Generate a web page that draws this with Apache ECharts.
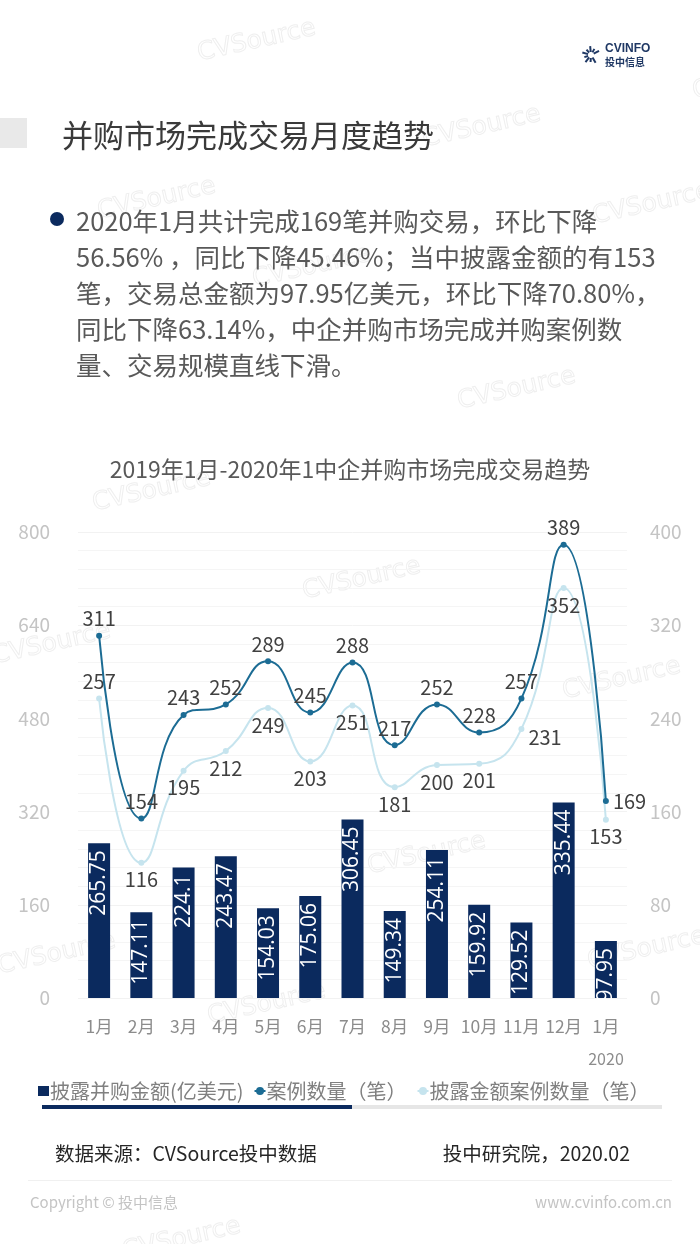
<!DOCTYPE html>
<html>
<head>
<meta charset="utf-8">
<script src="https://cdn.jsdelivr.net/npm/echarts@6/dist/echarts.min.js"></script>
<style>
html,body{margin:0;padding:0;background:#fff;}
#c{width:700px;height:1244px;}
</style>
</head>
<body>
<div id="c"></div>
<script>
// ---- data ----
const categories = ['1月','2月','3月','4月','5月','6月','7月','8月','9月','10月','11月','12月','1月'];
const amountValues = [265.75, 147.11, 224.1, 243.47, 154.03, 175.06, 306.45, 149.34, 254.11, 159.92, 129.52, 335.44, 97.95];
const caseCounts = [311, 154, 243, 252, 289, 245, 288, 217, 252, 228, 257, 389, 169];
const disclosedCounts = [257, 116, 195, 212, 249, 203, 251, 181, 200, 201, 231, 352, 153];
const seriesNames = ['披露并购金额(亿美元)', '案例数量（笔）', '披露金额案例数量（笔）'];
const leftTicks = [0, 160, 320, 480, 640, 800];
const rightTicks = [0, 80, 160, 240, 320, 400];

const pageTitle = '并购市场完成交易月度趋势';
const paragraphLines = [
  '2020年1月共计完成169笔并购交易，环比下降',
  '56.56% ，同比下降45.46%；当中披露金额的有153',
  '笔，交易总金额为97.95亿美元，环比下降70.80%，',
  '同比下降63.14%，中企并购市场完成并购案例数',
  '量、交易规模直线下滑。'
];
const chartTitle = '2019年1月-2020年1中企并购市场完成交易趋势';
const yearNote = '2020';
const sourceLeft = '数据来源：CVSource投中数据';
const sourceRight = '投中研究院，2020.02';
const footerLeft = 'Copyright © 投中信息';
const footerRight = 'www.cvinfo.com.cn';

// label placement styles (not data)
const casePos = ['top','top','top','top','top','top','top','top','top','top','top','top','right'];
const discPos = ['top','bottom','bottom','bottom','bottom','bottom','bottom','bottom','bottom','bottom','right','bottom','bottom'];
const discOffset = [[0,0],[0,0],[0,0],[0,0],[0,0],[0,0],[0,0],[0,0],[0,0],[0,0],[0,9],[0,0],[0,0]];

const CJK = '"Noto Sans CJK SC", "Noto Sans", sans-serif';
const chart = echarts.init(document.getElementById('c'), null, {renderer:'canvas'});

const graphics = [];
// watermarks
const wm = [[195,42],[420,128],[95,200],[590,205],[250,268],[455,390],[90,492],[300,580],[-10,645],[560,680],[365,855],[-5,955],[585,950],[205,1005],[120,1240],[690,80]];
wm.forEach(p => graphics.push({type:'text', x:p[0], y:p[1], rotation:0.22, silent:true, z:-1,
  style:{text:'CVSource', fill:'none', stroke:'#efefef', lineWidth:1, font:'25px "DejaVu Sans", sans-serif'}}));

// left gray box
graphics.push({type:'rect', shape:{x:0,y:118,width:27,height:30}, style:{fill:'#e9e9e9'}});
graphics.push({type:'text', x:62, y:135, style:{text:pageTitle, fill:'#3a3a3a', font:'31px '+CJK, textVerticalAlign:'middle'}});

// logo
const cx = 591, cy = 55;
for (let i = 0; i < 9; i++) {
  const a = Math.PI*0.15 + i*Math.PI*0.19;
  const r1 = 3, r2 = (i%2===0) ? 9 : 7;
  graphics.push({type:'line', shape:{x1:cx+Math.cos(a)*r1, y1:cy-Math.sin(a)*r1, x2:cx+Math.cos(a)*r2, y2:cy-Math.sin(a)*r2},
    style:{stroke:'#1f3864', lineWidth:2}});
}
graphics.push({type:'text', x:605, y:49, style:{text:'CVINFO', fill:'#1f3864', font:'bold 12px "Liberation Sans", sans-serif', textVerticalAlign:'middle'}});
graphics.push({type:'text', x:605, y:62, style:{text:'投中信息', fill:'#1f3864', font:'bold 10px '+CJK, textVerticalAlign:'middle'}});

// bullet + paragraph
graphics.push({type:'circle', shape:{cx:57, cy:219, r:7}, style:{fill:'#0b2a5e'}});
paragraphLines.forEach((t,i) => graphics.push({type:'text', x:76, y:221+i*36, style:{text:t, fill:'#595959', font:'25.5px '+CJK, textVerticalAlign:'middle'}}));

// year note
graphics.push({type:'text', x:606, y:1059, style:{text:yearNote, fill:'#8c8c8c', font:'16px '+CJK, textAlign:'center', textVerticalAlign:'middle'}});

// legend decoration bar
graphics.push({type:'rect', shape:{x:352,y:1105,width:310,height:4}, style:{fill:'#e6e6e6'}});
graphics.push({type:'rect', shape:{x:42,y:1105,width:310,height:4}, style:{fill:'#0b2a5e'}});

// source
graphics.push({type:'text', x:55, y:1154, style:{text:sourceLeft, fill:'#262626', font:'19.5px '+CJK, textVerticalAlign:'middle'}});
graphics.push({type:'text', x:630, y:1154, style:{text:sourceRight, fill:'#262626', font:'19.5px '+CJK, textAlign:'right', textVerticalAlign:'middle'}});
graphics.push({type:'rect', shape:{x:28,y:1180,width:644,height:1}, style:{fill:'#f0f0f0'}});
graphics.push({type:'text', x:30, y:1202, style:{text:footerLeft, fill:'#c4c4c4', font:'15px '+CJK, textVerticalAlign:'middle'}});
graphics.push({type:'text', x:672, y:1202, style:{text:footerRight, fill:'#c4c4c4', font:'15px '+CJK, textAlign:'right', textVerticalAlign:'middle'}});

const lineLabel = {show:true, color:'#404040', fontSize:20, fontFamily:CJK, distance:4};

chart.setOption({
  animation:false,
  backgroundColor:'#ffffff',
  textStyle:{fontFamily:CJK},
  title:{text:chartTitle, left:'center', top:453, textStyle:{color:'#595959', fontSize:23, fontWeight:'normal', fontFamily:CJK}},
  legend:{
    left:33, top:1076, itemGap:10, itemWidth:11, itemHeight:10,
    textStyle:{color:'#808080', fontSize:20, fontFamily:CJK, padding:[0,0,0,-4]},
    data:[{name:seriesNames[0], icon:'rect'}, {name:seriesNames[1]}, {name:seriesNames[2]}]
  },
  grid:{left:78, right:73, top:532, bottom:246},
  xAxis:{
    type:'category', data:categories,
    axisLine:{show:false}, axisTick:{show:false},
    axisLabel:{color:'#8c8c8c', fontSize:17.5, margin:20, fontFamily:CJK, interval:0}
  },
  yAxis:[
    {type:'value', min:leftTicks[0], max:leftTicks[leftTicks.length-1], interval:160,
      axisLabel:{color:'#c4c4c4', fontSize:19, margin:28, fontFamily:CJK},
      axisLine:{show:false}, axisTick:{show:false},
      splitLine:{lineStyle:{color:'#f2f2f2'}},
      minorTick:{show:false, splitNumber:5},
      minorSplitLine:{show:true, lineStyle:{color:'#f5f5f5'}}},
    {type:'value', min:rightTicks[0], max:rightTicks[rightTicks.length-1], interval:80,
      axisLabel:{color:'#c4c4c4', fontSize:19, margin:23, fontFamily:CJK},
      axisLine:{show:false}, axisTick:{show:false}, splitLine:{show:false}}
  ],
  series:[
    {name:seriesNames[0], type:'bar', data:amountValues, barWidth:22, yAxisIndex:0,
      itemStyle:{color:'#0b2a5e'},
      label:{show:true, position:'insideTop', rotate:90, align:'right', verticalAlign:'middle', distance:7,
        color:'#ffffff', fontSize:21, fontFamily:'"Open Sans", sans-serif'}},
    {name:seriesNames[1], type:'line', yAxisIndex:1, smooth:0.5, z:4,
      data:caseCounts.map((v,i)=>({value:v, label:{position:casePos[i]}})),
      symbol:'circle', symbolSize:6,
      lineStyle:{color:'#1c6c94', width:2}, itemStyle:{color:'#1c6c94'},
      label:lineLabel},
    {name:seriesNames[2], type:'line', yAxisIndex:1, smooth:0.5, z:3,
      data:disclosedCounts.map((v,i)=>({value:v, label:{position:discPos[i], offset:discOffset[i]}})),
      symbol:'circle', symbolSize:6,
      lineStyle:{color:'#c6e4ee', width:2}, itemStyle:{color:'#c6e4ee'},
      label:lineLabel}
  ],
  graphic:graphics
});
</script>
</body>
</html>
